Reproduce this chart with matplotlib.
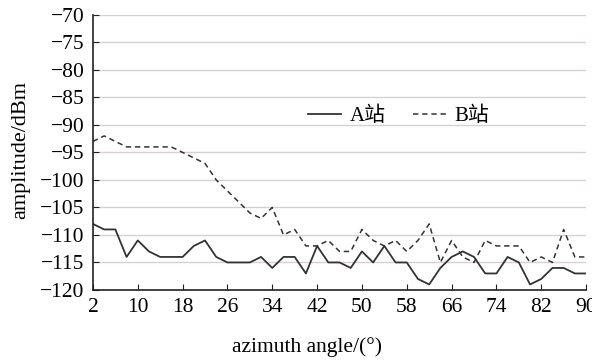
import matplotlib
matplotlib.use("Agg")
import matplotlib.pyplot as plt

# azimuth angle step 2 deg, 2..90
angles = list(range(2, 91, 2))
station_a = [-108, -109, -109, -114, -111, -113, -114, -114, -114, -112,
             -111, -114, -115, -115, -115, -114, -116, -114, -114, -117,
             -112, -115, -115, -116, -113, -115, -112, -115, -115, -118,
             -119, -116, -114, -113, -114, -117, -117, -114, -115, -119,
             -118, -116, -116, -117, -117]
station_b = [-93, -92, -93, -94, -94, -94, -94, -94, -95, -96,
             -97, -100, -102, -104, -106, -107, -105, -110, -109, -112,
             -112, -111, -113, -113, -109, -111, -112, -111, -113, -111,
             -108, -115, -111, -114, -115, -111, -112, -112, -112, -115,
             -114, -115, -109, -114, -114]
xticks = list(range(2, 91, 8))
yticks = list(range(-120, -69, 5))

plt.rcParams["font.family"] = ["Liberation Serif", "Noto Sans CJK SC"]

fig = plt.figure(figsize=(5.92, 3.62), dpi=100)
ax = fig.add_axes([0.157, 0.199, 0.833, 0.76])

ax.plot(angles, station_a, color="#333333", lw=1.3, label="A站")
ax.plot(angles, station_b, color="#333333", lw=1.1, ls=(0, (3.5, 2.5)), label="B站")

ax.set_xlim(2, 90)
ax.set_ylim(-120, -70)
ax.set_xticks(xticks)
ax.set_yticks(yticks)
ax.grid(axis="y", color="#d9cfcf", lw=1)
ax.set_axisbelow(True)
ax.tick_params(direction="in", length=4, color="#222222", labelsize=15.5, pad=6)
for s in ["top", "right"]:
    ax.spines[s].set_visible(False)
for s in ["left", "bottom"]:
    ax.spines[s].set_color("#222222")
    ax.spines[s].set_linewidth(1.2)

ax.set_xlabel("azimuth angle/(°)", fontsize=15.5)
ax.set_ylabel("amplitude/dBm", fontsize=16)
ax.xaxis.set_label_coords(0.435, -0.17)
ax.yaxis.set_label_coords(-0.128, 0.51)

ax.legend(loc="center", bbox_to_anchor=(0.62, 0.63), ncol=2, frameon=False,
          fontsize=15, handlelength=1.6, columnspacing=1.3, handletextpad=0.4)

fig.savefig("out.png", dpi=100)
